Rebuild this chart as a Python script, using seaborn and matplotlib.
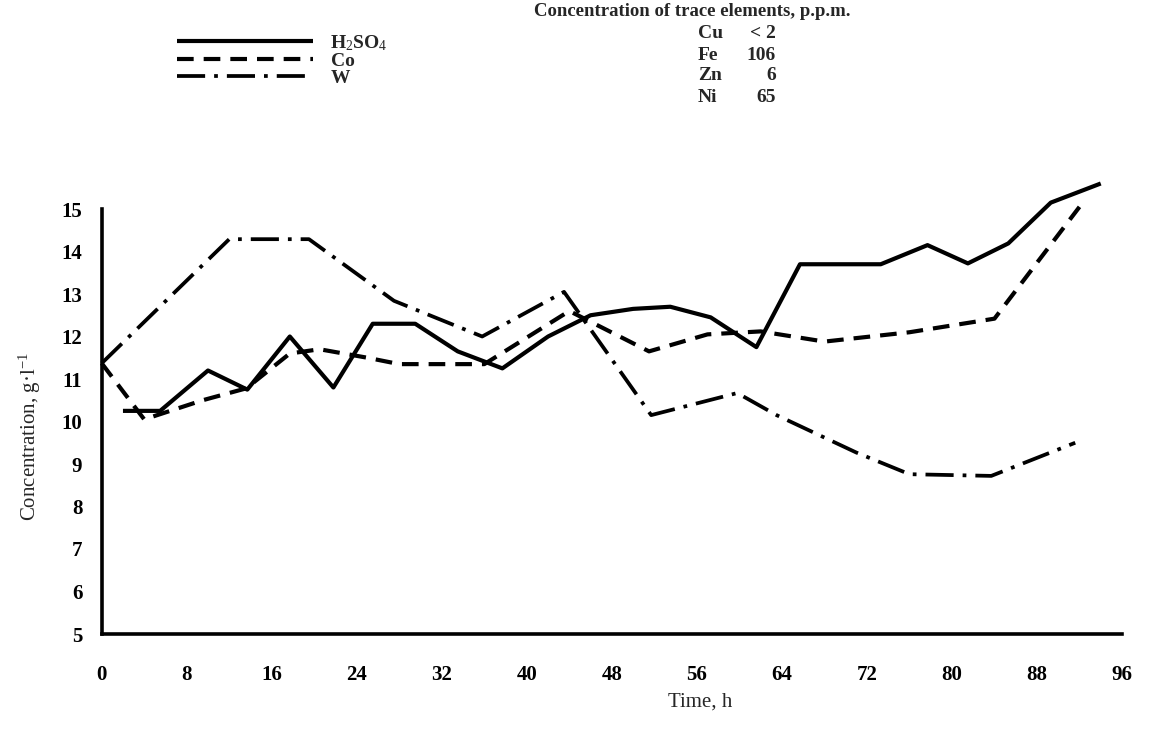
import matplotlib
matplotlib.use("Agg")
import matplotlib.pyplot as plt
import seaborn as sns
import pandas as pd

# ---- data ----
h2so4_t = [2, 5.5, 10, 13.7, 17.7, 21.8, 25.5, 29.5, 33.5, 37.7, 42, 46, 50, 53.5,
           57.3, 61.6, 65.7, 73.3, 77.7, 81.5, 85.3, 89.3, 94]
h2so4_v = [10.25, 10.25, 11.2, 10.75, 12.0, 10.8, 12.3, 12.3, 11.65, 11.25, 12.0,
           12.5, 12.65, 12.7, 12.45, 11.75, 13.7, 13.7, 14.15, 13.72, 14.19, 15.15, 15.6]

co_t = [0, 4, 9.5, 13.6, 17.7, 20.5, 25, 28, 36, 44, 51.5, 57, 62, 68, 76, 84, 92]
co_v = [11.37, 10.05, 10.5, 10.78, 11.6, 11.7, 11.5, 11.35, 11.35, 12.6, 11.65,
        12.05, 12.12, 11.88, 12.1, 12.42, 15.05]

w_t = [0, 12, 19.5, 27.5, 35.8, 43.5, 51.7, 59.8, 63.5, 71, 76, 83.7, 91.6]
w_v = [11.37, 14.29, 14.29, 12.84, 12.0, 13.05, 10.15, 10.67, 10.15, 9.27, 8.76, 8.72, 9.5]

series_labels = ["H$_2$SO$_4$", "Co", "W"]
x_ticks = list(range(0, 97, 8))
y_ticks = list(range(5, 16))

trace_elements = ["Cu", "Fe", "Zn", "Ni"]
trace_values = ["< 2", "106", "6", "65"]

# ---- style ----
sns.set_theme(style="white")
plt.rcParams["font.family"] = ["Liberation Serif", "DejaVu Serif"]
plt.rcParams["mathtext.fontset"] = "custom"
plt.rcParams["mathtext.rm"] = "Liberation Serif"
plt.rcParams["mathtext.it"] = "Liberation Serif:italic"
plt.rcParams["mathtext.bf"] = "Liberation Serif:bold"

W, H = 1151, 740
fig = plt.figure(figsize=(W / 100, H / 100), dpi=100)
x0, x1 = 101.7, 1122
y_bot, y15 = 634, 209
ppu = (y_bot - y15) / 10.0
ytop_val = 15.9
y_top = y_bot - (ytop_val - 5) * ppu
ax = fig.add_axes([x0 / W, 1 - y_bot / H, (x1 - x0) / W, (y_bot - y_top) / H])

lw = 3.0
df_h = pd.DataFrame({"t": h2so4_t, "v": h2so4_v})
df_c = pd.DataFrame({"t": co_t, "v": co_v})
df_w = pd.DataFrame({"t": w_t, "v": w_v})

sns.lineplot(data=df_h, x="t", y="v", ax=ax, color="black", lw=lw, sort=False,
             label=series_labels[0], solid_capstyle="butt")
sns.lineplot(data=df_c, x="t", y="v", ax=ax, color="black", lw=lw, sort=False,
             label=series_labels[1], linestyle=(0, (4.0, 2.4)), dash_capstyle="butt")
sns.lineplot(data=df_w, x="t", y="v", ax=ax, color="black", lw=lw * 0.9, sort=False,
             label=series_labels[2], linestyle=(0, (7.5, 2.4, 1.0, 2.4)), dash_capstyle="butt")

for ln in ax.lines:
    ln.set_clip_on(False)

ax.set_xlim(0, 96)
ax.set_ylim(5, ytop_val)
ax.set_xticks(x_ticks)
ax.set_yticks(y_ticks)
ax.set_xticklabels([str(v) for v in x_ticks], fontsize=15, fontweight="bold")
ax.set_yticklabels([str(v) for v in y_ticks], fontsize=15, fontweight="bold")

for s in ["top", "right"]:
    ax.spines[s].set_visible(False)
for s in ["left", "bottom"]:
    ax.spines[s].set_linewidth(2.6)
    ax.spines[s].set_color("black")
ax.spines["left"].set_bounds(5, 15)
ax.spines["bottom"].set_bounds(0, 96)

ax.tick_params(axis="x", direction="out", length=11, width=2.6, pad=11, colors="black")
ax.tick_params(axis="y", direction="out", length=10, width=2.6, pad=4, colors="black")
ax.grid(False)

ax.set_xlabel("Time, h", fontsize=15)
ax.set_ylabel("Concentration, g·l$^{-1}$", fontsize=15)
ax.xaxis.set_label_coords((700 - x0) / (x1 - x0), -(693 - y_bot) / (y_bot - y_top))
ax.yaxis.set_label_coords((43 - x0) / (x1 - x0), (y_bot - 437) / (y_bot - y_top))

# legend
handles, labels = ax.get_legend_handles_labels()
ax.get_legend().remove()
fs_leg = 14
leg = fig.legend(handles, labels, loc="upper left",
                 bbox_to_anchor=(177 / W, 1 - 33 / H), frameon=False,
                 fontsize=fs_leg, handlelength=136 / (fs_leg * 100 / 72),
                 handletextpad=0.9, borderpad=0, borderaxespad=0,
                 labelspacing=-0.03)
for t in leg.get_texts():
    t.set_fontweight("bold")

# trace element annotation
fig.text(692 / W, 1 - 11 / H, "Concentration of trace elements, p.p.m.",
         ha="center", va="center", fontsize=13.5, fontweight="bold")
for i, (el, val) in enumerate(zip(trace_elements, trace_values)):
    yy = 1 - (34 + 21 * i) / H
    fig.text(698 / W, yy, el, ha="left", va="center", fontsize=14, fontweight="bold")
    fig.text(776 / W, yy, val, ha="right", va="center", fontsize=14, fontweight="bold")

fig.savefig("out.png", dpi=100, facecolor="white")
